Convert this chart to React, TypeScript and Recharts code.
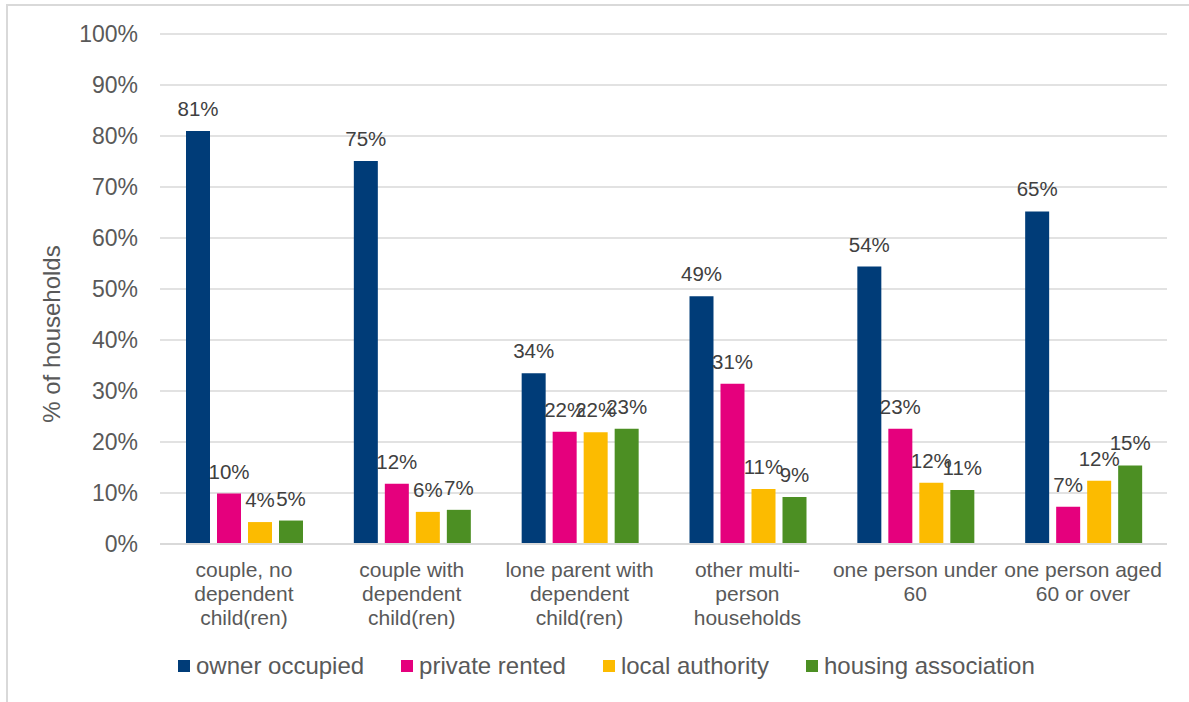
import React from 'react';
import { BarChart, Bar, XAxis, YAxis, CartesianGrid, Legend, LabelList } from 'recharts';

const categories = [
  'couple, no dependent child(ren)',
  'couple with dependent child(ren)',
  'lone parent with dependent child(ren)',
  'other multi-person households',
  'one person under 60',
  'one person aged 60 or over',
];

const tickLines: string[][] = [
  ['couple, no', 'dependent', 'child(ren)'],
  ['couple with', 'dependent', 'child(ren)'],
  ['lone parent with', 'dependent', 'child(ren)'],
  ['other multi-', 'person', 'households'],
  ['one person under', '60'],
  ['one person aged', '60 or over'],
];

const ownerOccupied = [81.0, 75.1, 33.5, 48.6, 54.4, 65.2];
const privateRented = [9.9, 11.8, 22.0, 31.4, 22.6, 7.3];
const localAuthority = [4.3, 6.3, 21.9, 10.8, 12.0, 12.4];
const housingAssociation = [4.6, 6.7, 22.6, 9.2, 10.6, 15.4];

const yTicks = [0, 10, 20, 30, 40, 50, 60, 70, 80, 90, 100];

const seriesNames = ['owner occupied', 'private rented', 'local authority', 'housing association'];
const seriesKeys = ['owner', 'private', 'local', 'housing'];
const seriesColors = ['#003c78', '#e5007d', '#fcbb00', '#4c8f23'];

const data = categories.map((c, i) => ({
  name: c,
  idx: i,
  owner: ownerOccupied[i],
  private: privateRented[i],
  local: localAuthority[i],
  housing: housingAssociation[i],
}));

const FONT = '"Liberation Sans", Arial, sans-serif';
const TEXT = '#595959';

const XTick = (props: any) => {
  const { x, y, payload } = props;
  const idx = categories.indexOf(payload.value);
  const lines = tickLines[idx] || [payload.value];
  return (
    <text x={x} y={y} textAnchor="middle" fill={TEXT} fontSize={21} fontFamily={FONT}>
      {lines.map((l, i) => (
        <tspan key={i} x={x} dy={i === 0 ? 33 : 24}>
          {l}
        </tspan>
      ))}
    </text>
  );
};

const LegendContent = () => (
  <div style={{ display: 'flex', alignItems: 'center', fontFamily: FONT, fontSize: 24, color: TEXT, whiteSpace: 'nowrap' }}>
    {seriesNames.map((n, i) => (
      <div key={n} style={{ display: 'flex', alignItems: 'center', marginRight: 37 }}>
        <div style={{ width: 12, height: 12, background: seriesColors[i], marginRight: 6 }} />
        <span>{n}</span>
      </div>
    ))}
  </div>
);

export default function App() {
  return (
    <div style={{ position: 'absolute', left: 0, top: 0, width: 1189, height: 702, background: '#fff' }}>
      <div style={{ position: 'absolute', left: 6, top: 4, width: 1183, height: 2, background: '#d9d9d9' }} />
      <div style={{ position: 'absolute', left: 6, top: 4, width: 2, height: 698, background: '#d9d9d9' }} />
      <BarChart
        width={1189}
        height={702}
        data={data}
        margin={{ top: 34, right: 22, bottom: 58, left: 0 }}
        barGap={7}
        barCategoryGap={26}
        style={{ position: 'absolute', left: 0, top: 0 }}
      >
        <CartesianGrid vertical={false} stroke="#d9d9d9" strokeWidth={1.5} />
        <XAxis
          dataKey="name"
          height={100}
          tickLine={false}
          tickSize={0}
          tickMargin={0}
          axisLine={{ stroke: '#d9d9d9', strokeWidth: 2 }}
          tick={<XTick />}
          interval={0}
        />
        <YAxis
          width={160}
          domain={[0, 100]}
          ticks={yTicks}
          tickFormatter={(v: number) => `${v}%`}
          tickLine={false}
          tickSize={0}
          tickMargin={22}
          axisLine={false}
          tick={{ fill: TEXT, fontSize: 23, fontFamily: FONT }}
          label={{
            value: '% of households',
            angle: -90,
            position: 'insideLeft',
            dx: 46,
            dy: 45,
            style: { fill: TEXT, fontSize: 24, fontFamily: FONT, textAnchor: 'middle' },
          }}
        />
        <Legend
          verticalAlign="middle"
          layout="horizontal"
          content={<LegendContent />}
          wrapperStyle={{ left: 178, top: 652, width: 'auto' }}
        />
        {seriesKeys.map((k, i) => (
          <Bar key={k} dataKey={k} name={seriesNames[i]} fill={seriesColors[i]} isAnimationActive={false}>
            <LabelList
              dataKey={k}
              position="top"
              offset={15}
              formatter={(v: number) => `${Math.round(v)}%`}
              style={{ fill: '#404040', fontSize: 20.5, fontFamily: FONT }}
            />
          </Bar>
        ))}
      </BarChart>
    </div>
  );
}
